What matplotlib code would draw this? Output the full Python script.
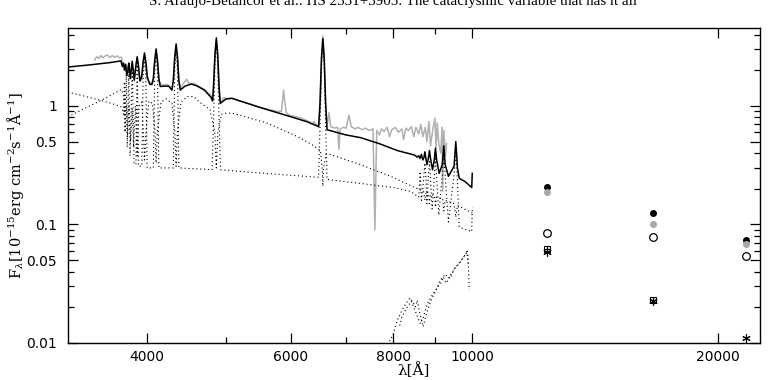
"""Spectral energy distribution: observed spectrum, model components and IR photometry."""

import matplotlib

matplotlib.use("Agg")
import matplotlib.pyplot as plt
from matplotlib.ticker import FixedLocator, NullFormatter

plt.rcParams["mathtext.fontset"] = "dejavuserif"

# ---- data (wavelength in Angstrom, flux in 1e-15 erg/cm2/s/A) ----
total_wl = [3200, 3400, 3600, 3715, 3730, 3742, 3752, 3765, 3778, 3790, 3798, 3806, 3815, 3825,
            3835, 3845, 3858, 3876, 3889, 3902, 3918, 3938, 3954, 3970, 3986, 4002, 4030, 4054,
            4070, 4086, 4102, 4118, 4134, 4150, 4200, 4250, 4289, 4306, 4323, 4340, 4357, 4374,
            4391, 4450, 4530, 4600, 4700, 4790, 4810, 4822, 4842, 4861, 4880, 4900, 4915, 4940,
            5000, 5080, 5200, 5500, 6000, 6300, 6485, 6511, 6537, 6563, 6589, 6615, 6641,
            7000, 7300, 7700, 8100, 8500, 8560, 8600, 8630, 8665, 8700, 8730, 8750, 8770, 8800,
            8835, 8863, 8890, 8940, 8985, 9015, 9045, 9110, 9190, 9229, 9265, 9350, 9500, 9525,
            9546, 9567, 9590, 9640, 9800, 9985, 10000]
total_fx = [2.13, 2.22, 2.32, 2.40, 2.15, 2.30, 2.00, 2.25, 1.80, 2.05, 2.30, 2.00, 1.70, 2.05,
            2.38, 2.05, 1.65, 2.23, 2.60, 2.23, 1.62, 1.76, 2.33, 2.80, 2.33, 1.76, 1.52, 1.52,
            1.71, 2.43, 3.03, 2.43, 1.71, 1.46, 1.47, 1.47, 1.36, 1.64, 2.58, 3.34, 2.58, 1.64,
            1.36, 1.47, 1.53, 1.48, 1.36, 1.18, 1.10, 1.46, 2.72, 3.75, 2.72, 1.42, 1.05, 1.08,
            1.15, 1.16, 1.10, 0.97, 0.81, 0.73, 0.67, 1.06, 2.51, 3.70, 2.51, 1.06, 0.63,
            0.57, 0.54, 0.48, 0.42, 0.385, 0.37, 0.38, 0.36, 0.39, 0.35, 0.37, 0.41, 0.37, 0.32,
            0.36, 0.42, 0.36, 0.29, 0.35, 0.44, 0.35, 0.27, 0.32, 0.46, 0.32, 0.255, 0.31, 0.40,
            0.50, 0.40, 0.30, 0.245, 0.23, 0.205, 0.27]

obs_wl = [3450, 3470, 3490, 3510, 3530, 3550, 3575, 3600, 3625, 3650, 3675, 3700, 3720, 3735,
          3750, 3765, 3780, 3798, 3812, 3835, 3855, 3876, 3889, 3902, 3920, 3940, 3955, 3970,
          3985, 4000, 4030, 4070, 4086, 4102, 4118, 4135, 4170, 4230, 4290, 4306, 4323, 4340,
          4357, 4374, 4395, 4430, 4471, 4500, 4560, 4620, 4700, 4790, 4812, 4825, 4843, 4861,
          4879, 4897, 4915, 4940, 4970, 5015, 5080, 5150, 5250, 5350, 5450, 5550, 5650, 5760,
          5840, 5862, 5876, 5890, 5920, 5980, 6100, 6200, 6300, 6360, 6400, 6450, 6490, 6515,
          6540, 6563, 6586, 6611, 6640, 6678, 6710, 6780, 6840, 6868, 6890, 6950, 7010, 7065,
          7110, 7180, 7250, 7320, 7400, 7480, 7560, 7600, 7640, 7700, 7740, 7800, 7870, 7920,
          7970, 8050, 8120, 8200, 8240, 8290, 8350, 8420, 8480, 8530, 8600, 8650, 8700, 8760,
          8800, 8850, 8890, 8950, 9000, 9030, 9060, 9100, 9150, 9185, 9200, 9230, 9270, 9300]
obs_fx = [2.45, 2.60, 2.52, 2.66, 2.55, 2.62, 2.70, 2.56, 2.66, 2.58, 2.64, 2.55, 2.58, 2.20,
          2.25, 1.95, 2.10, 2.20, 1.75, 2.30, 1.65, 2.15, 2.50, 2.15, 1.70, 1.65, 2.25, 2.70,
          2.25, 1.68, 1.55, 1.60, 2.30, 2.90, 2.30, 1.62, 1.50, 1.52, 1.42, 1.65, 2.50, 3.20,
          2.50, 1.62, 1.42, 1.55, 1.68, 1.55, 1.55, 1.47, 1.38, 1.22, 1.12, 1.45, 2.65, 3.60,
          2.65, 1.40, 1.08, 1.12, 1.18, 1.14, 1.16, 1.12, 1.08, 1.04, 0.99, 0.96, 0.93, 0.90,
          0.90, 1.15, 1.36, 1.12, 0.88, 0.83, 0.81, 0.78, 0.74, 0.70, 0.74, 0.69, 0.66, 1.10,
          2.60, 3.90, 2.60, 1.08, 0.68, 0.88, 0.67, 0.65, 0.66, 0.43, 0.64, 0.66, 0.65, 0.84,
          0.67, 0.64, 0.66, 0.63, 0.65, 0.62, 0.64, 0.09, 0.62, 0.57, 0.64, 0.61, 0.66, 0.55,
          0.63, 0.66, 0.60, 0.64, 0.52, 0.65, 0.62, 0.67, 0.55, 0.66, 0.58, 0.70, 0.55, 0.66,
          0.50, 0.74, 0.46, 0.64, 0.79, 0.44, 0.72, 0.48, 0.40, 0.66, 0.19, 0.62, 0.38, 0.48]

wd_wl = [3200, 3350, 3500, 3650, 3720, 3745, 3760, 3772, 3785, 3800, 3818, 3835, 3850, 3870,
         3889, 3908, 3940, 3958, 3970, 3985, 4020, 4060, 4090, 4102, 4115, 4160, 4220, 4290,
         4325, 4340, 4355, 4400, 4480, 4560, 4642, 4775, 4840, 4861, 4882, 4930, 5000, 5080,
         5600, 6150, 6400, 6520, 6550, 6563, 6576, 6620, 6700, 7300, 8000, 8500, 8720, 8750,
         8780, 8840, 8863, 8890, 8990, 9015, 9040, 9200, 9229, 9260, 9500, 9546, 9590, 10000]
wd_fx = [0.81, 0.95, 1.10, 1.28, 1.38, 1.20, 0.60, 1.00, 0.55, 1.00, 0.50, 0.95, 0.45, 1.00,
         0.38, 1.00, 1.08, 0.60, 0.35, 0.60, 1.10, 1.05, 0.60, 0.33, 0.60, 1.08, 1.15, 1.05,
         0.60, 0.31, 0.60, 1.08, 1.20, 1.20, 1.07, 0.93, 0.60, 0.30, 0.60, 0.85, 0.87, 0.87,
         0.72, 0.54, 0.46, 0.42, 0.30, 0.21, 0.30, 0.39, 0.39, 0.32, 0.25, 0.205, 0.19, 0.16,
         0.19, 0.185, 0.15, 0.18, 0.175, 0.14, 0.17, 0.165, 0.13, 0.16, 0.15, 0.115, 0.145, 0.125]

disc_wl = [3200, 3350, 3500, 3650, 3720, 3745, 3752, 3760, 3771, 3782, 3798, 3812, 3835, 3855,
           3875, 3889, 3903, 3940, 3955, 3970, 3985, 4000, 4070, 4086, 4102, 4118, 4134, 4306,
           4323, 4340, 4357, 4374, 4803, 4822, 4842, 4861, 4880, 4900, 4919, 5200, 6000, 6485,
           6511, 6537, 6563, 6589, 6615, 6641, 7300, 8000, 8400, 8600, 8635, 8665, 8720, 8750,
           8780, 8800, 8835, 8863, 8890, 8930, 8985, 9015, 9045, 9100, 9190, 9229, 9265, 9350,
           9510, 9546, 9580, 9640, 9985, 10000]
disc_fx = [1.31, 1.21, 1.12, 1.03, 0.98, 0.85, 1.60, 0.60, 1.90, 0.45, 2.10, 0.38, 2.20, 0.33,
           0.32, 2.40, 0.31, 0.31, 1.80, 2.60, 1.80, 0.30, 0.30, 1.90, 2.85, 1.90, 0.30, 0.30,
           2.00, 3.15, 2.00, 0.30, 0.29, 0.72, 2.24, 3.50, 2.24, 0.72, 0.29, 0.28, 0.26, 0.25,
           0.66, 2.20, 3.50, 2.20, 0.66, 0.24, 0.222, 0.205, 0.19, 0.17, 0.28, 0.16, 0.24, 0.33,
           0.24, 0.15, 0.25, 0.34, 0.24, 0.135, 0.25, 0.36, 0.25, 0.12, 0.26, 0.38, 0.26, 0.105,
           0.28, 0.42, 0.28, 0.095, 0.087, 0.14]

sec_wl = [7850, 7935, 8000, 8046, 8116, 8210, 8305, 8395, 8466, 8515, 8564, 8636, 8708, 8780,
          8883, 9011, 9137, 9214, 9299, 9398, 9535, 9667, 9806, 9860, 9887, 9915]
sec_fx = [0.0090, 0.0106, 0.0117, 0.0137, 0.0162, 0.0190, 0.0218, 0.0240, 0.0220, 0.0202,
          0.0230, 0.0172, 0.0137, 0.0172, 0.0222, 0.0270, 0.0340, 0.0360, 0.0320, 0.0375,
          0.0430, 0.0480, 0.0560, 0.0610, 0.0500, 0.0280]
sec2_wl = [8150, 8200, 8300, 8420, 8560, 8640, 8700, 8800, 8950, 9150, 9250, 9400, 9500,
           9700, 9850, 9880]
sec2_fx = [0.0140, 0.0165, 0.0195, 0.0225, 0.0170, 0.0145, 0.0160, 0.0210, 0.0260, 0.0320,
           0.0380, 0.0350, 0.0420, 0.0500, 0.0580, 0.0470]

phot_wl = [12350, 16620, 21610]
phot_black = [0.206, 0.1245, 0.0737]
phot_gray = [0.187, 0.100, 0.068]
phot_open = [0.0843, 0.0785, 0.0547]
box_wl = [12350, 16620]
box_fx = [0.0616, 0.0232]
star_fx = [0.059, 0.0226, 0.011]

x_major = [4000, 6000, 8000, 10000, 20000]
x_minor = [5000, 7000, 9000]
y_major = [0.01, 0.05, 0.1, 0.5, 1]
y_labels = ["0.01", "0.05", "0.1", "0.5", "1"]
y_minor = [0.02, 0.03, 0.04, 0.06, 0.07, 0.08, 0.09,
           0.2, 0.3, 0.4, 0.6, 0.7, 0.8, 0.9, 2, 3, 4]

fig = plt.figure(figsize=(7.7, 3.8), dpi=100)
ax = fig.add_axes([0.0883, 0.0974, 0.8987, 0.829])

dot = (0, (1, 2.5))
ax.plot(obs_wl, obs_fx, color="#b0b0b0", lw=1.1, zorder=2)
for wl, fx in [(wd_wl, wd_fx), (disc_wl, disc_fx), (sec_wl, sec_fx), (sec2_wl, sec2_fx)]:
    ax.plot(wl, fx, color="black", lw=0.8, ls=dot, zorder=3)
ax.plot(total_wl, total_fx, color="black", lw=1.1, zorder=4)

ax.plot(phot_wl, phot_black, "o", color="black", ms=4, zorder=5)
ax.plot(phot_wl, phot_gray, "o", color="#a8a8a8", ms=4, zorder=5)
ax.plot(phot_wl, phot_open, "o", mfc="white", mec="black", mew=0.9, ms=5.5, zorder=5)
ax.plot(box_wl, box_fx, "s", mfc="none", mec="black", mew=0.8, ms=5, zorder=5)
ax.plot(box_wl, box_fx, "+", color="black", mew=0.8, ms=5, zorder=5)
ax.plot(phot_wl, star_fx, marker=(6, 2, 0), ls="none", color="black", mew=0.8, ms=6, zorder=5)

ax.set_xscale("log")
ax.set_yscale("log")
ax.set_xlim(3200, 22500)
ax.set_ylim(0.01, 4.55)

ax.xaxis.set_major_locator(FixedLocator(x_major))
ax.xaxis.set_minor_locator(FixedLocator(x_minor))
ax.set_xticklabels([str(v) for v in x_major])
ax.xaxis.set_minor_formatter(NullFormatter())
ax.yaxis.set_major_locator(FixedLocator(y_major))
ax.yaxis.set_minor_locator(FixedLocator(y_minor))
ax.set_yticklabels(y_labels)
ax.yaxis.set_minor_formatter(NullFormatter())

ax.tick_params(which="both", direction="in", top=True, right=True, width=0.9, labelsize=10)
ax.tick_params(which="major", length=7)
ax.tick_params(which="minor", length=4)
ax.tick_params(axis="x", pad=5)
ax.tick_params(axis="y", pad=8)
for s in ax.spines.values():
    s.set_linewidth(1.0)

ax.set_xlabel("λ[Å]", family="DejaVu Serif", fontsize=11)
ax.xaxis.set_label_coords(0.5, -0.062)
ax.set_ylabel(r"F$_\lambda$[10$^{-15}$erg cm$^{-2}$s$^{-1}$Å$^{-1}$]", family="DejaVu Serif", fontsize=10.5)
ax.yaxis.set_label_coords(-0.06, 0.5)

fig.text(0.51, 0.986, "S. Araujo-Betancor et al.: HS 2331+3905: The cataclysmic variable that has it all",
         ha="center", va="baseline", family="Liberation Serif", fontsize=10.8)

fig.savefig("out.png", dpi=100)
